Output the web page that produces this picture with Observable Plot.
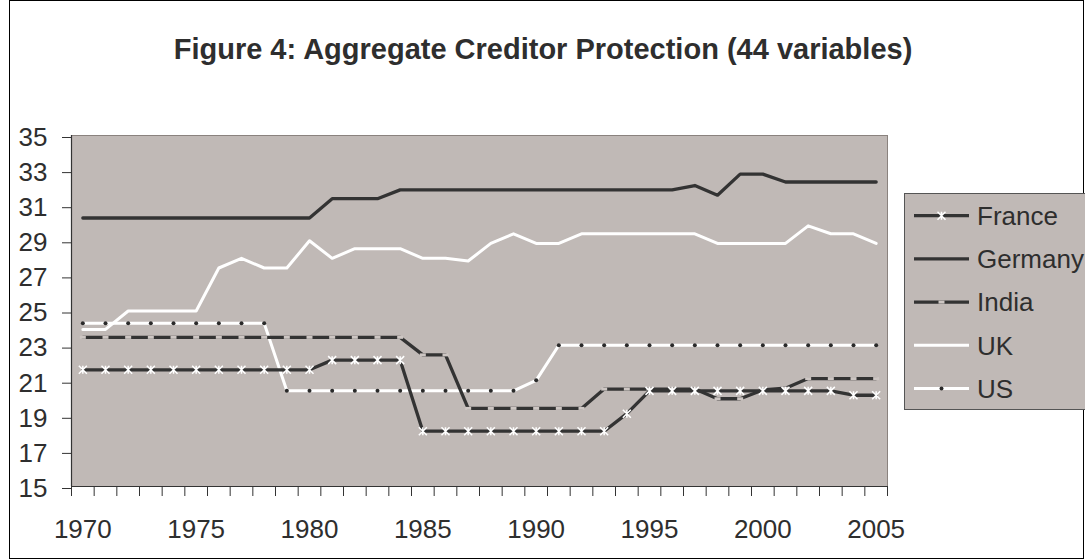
<!DOCTYPE html>
<html>
<head>
<meta charset="utf-8">
<script src="https://cdn.jsdelivr.net/npm/d3@7"></script>
<script src="https://cdn.jsdelivr.net/npm/@observablehq/plot@0.6"></script>
<style>
  body { margin: 0; background: #fff; overflow: hidden; font-family: "Liberation Sans", Arial, sans-serif; }
  #wrap { position: relative; width: 1085px; height: 560px; overflow: hidden; }
  #chart { position: absolute; left: 0; top: 0; }
  #frame { position: absolute; left: 9px; top: 0; width: 1075px; height: 559px; border: 1px solid #000; box-sizing: border-box; pointer-events: none; }
  #title { position: absolute; left: 0; width: 1086px; top: 35px; text-align: center; font-weight: bold; font-size: 29px; line-height: 29px; color: #2e2e2e; white-space: nowrap; }
  #legend { position: absolute; left: 904px; top: 193px; }
</style>
</head>
<body>
<div id="wrap">
  <div id="chart"></div>
  <div id="frame"></div>
  <div id="title">Figure 4: Aggregate Creditor Protection (44 variables)</div>
  <svg id="legend" width="190" height="218"></svg>
</div>
<script>
// ---- data ----
const years = [1970,1971,1972,1973,1974,1975,1976,1977,1978,1979,
               1980,1981,1982,1983,1984,1985,1986,1987,1988,1989,
               1990,1991,1992,1993,1994,1995,1996,1997,1998,1999,
               2000,2001,2002,2003,2004,2005];
const seriesNames = ["France", "Germany", "India", "UK", "US"];
const france = [21.65,21.65,21.65,21.65,21.65,21.65,21.65,21.65,21.65,21.65,
                21.65,22.2,22.2,22.2,22.2,18.15,18.15,18.15,18.15,18.15,
                18.15,18.15,18.15,18.15,19.15,20.45,20.45,20.45,20.45,20.45,
                20.45,20.45,20.45,20.45,20.2,20.2];
const germany = [30.3,30.3,30.3,30.3,30.3,30.3,30.3,30.3,30.3,30.3,
                 30.3,31.4,31.4,31.4,31.9,31.9,31.9,31.9,31.9,31.9,
                 31.9,31.9,31.9,31.9,31.9,31.9,31.9,32.15,31.6,32.8,
                 32.8,32.35,32.35,32.35,32.35,32.35];
const india = [23.5,23.5,23.5,23.5,23.5,23.5,23.5,23.5,23.5,23.5,
               23.5,23.5,23.5,23.5,23.5,22.5,22.5,19.45,19.45,19.45,
               19.45,19.45,19.45,20.55,20.55,20.55,20.55,20.55,20.0,20.0,
               20.5,20.6,21.15,21.15,21.15,21.15];
const uk = [23.95,23.95,25.0,25.0,25.0,25.0,27.45,28.0,27.45,27.45,
            29.0,28.0,28.55,28.55,28.55,28.0,28.0,27.85,28.85,29.4,
            28.85,28.85,29.4,29.4,29.4,29.4,29.4,29.4,28.85,28.85,
            28.85,28.85,29.85,29.4,29.4,28.85];
const us = [24.3,24.3,24.3,24.3,24.3,24.3,24.3,24.3,24.3,20.45,
            20.45,20.45,20.45,20.45,20.45,20.45,20.45,20.45,20.45,20.45,
            21.05,23.05,23.05,23.05,23.05,23.05,23.05,23.05,23.05,23.05,
            23.05,23.05,23.05,23.05,23.05,23.05];
const yTicks = [15,17,19,21,23,25,27,29,31,33,35];
const xLabelYears = [1970,1975,1980,1985,1990,1995,2000,2005];

// ---- table ----
const valuesByName = {France: france, Germany: germany, India: india, UK: uk, US: us};
const rows = seriesNames.flatMap(name => years.map((year, i) => ({name, year, value: valuesByName[name][i]})));
const of = name => rows.filter(d => d.name === name);

// category boundaries (ticks between categories)
const bounds = years.map(y => y - 0.5).concat([years[years.length - 1] + 0.5]);
const xDomain = [bounds[0], bounds[bounds.length - 1]];
const yDomain = [yTicks[0], yTicks[yTicks.length - 1]];

const BG = "#c0b9b6";
const DARK = "#333333";

const asterisk = {
  draw(ctx, size) {
    const r = Math.sqrt(size / Math.PI);
    ctx.moveTo(-r, -r); ctx.lineTo(r, r);
    ctx.moveTo(-r, r); ctx.lineTo(r, -r);
    ctx.moveTo(0, -r); ctx.lineTo(0, r);
  }
};
const dash = {
  draw(ctx, size) {
    const r = Math.sqrt(size / Math.PI);
    ctx.moveTo(-r, 0); ctx.lineTo(r, 0);
  }
};

const chart = Plot.plot({
  width: 1085,
  height: 560,
  marginLeft: 71,
  marginRight: 198,
  marginTop: 135,
  marginBottom: 74,
  style: { fontFamily: "Liberation Sans, Arial, sans-serif", fontSize: "26px", color: "#2e2e2e", background: "transparent", overflow: "visible" },
  x: { type: "linear", domain: xDomain, label: null },
  y: { type: "linear", domain: yDomain, label: null },
  marks: [
    Plot.frame({ fill: BG, stroke: "#8a827e", strokeWidth: 1 }),
    Plot.axisY(yTicks, { label: null, tickSize: 9, tickPadding: 15, fontSize: 26, dy: 2, tickFormat: d => String(d), stroke: DARK }),
    Plot.axisX(bounds, { label: null, tickSize: 10, tickFormat: () => "", stroke: DARK }),
    Plot.axisX(xLabelYears, { label: null, tickSize: 0, tickPadding: 33, fontSize: 26, tickFormat: d => String(d) }),
    Plot.ruleX([xDomain[0]], { stroke: DARK, strokeWidth: 1.2 }),
    Plot.ruleY([yDomain[0]], { stroke: DARK, strokeWidth: 1.2 }),
    // Germany
    Plot.line(of("Germany"), { x: "year", y: "value", stroke: DARK, strokeWidth: 3.3 }),
    // UK
    Plot.line(of("UK"), { x: "year", y: "value", stroke: "#ffffff", strokeWidth: 3 }),
    // US
    Plot.line(of("US"), { x: "year", y: "value", stroke: "#ffffff", strokeWidth: 3 }),
    Plot.dot(of("US"), { x: "year", y: "value", r: 2, fill: "#2a2a2a", stroke: "none" }),
    // India
    Plot.line(of("India"), { x: "year", y: "value", stroke: DARK, strokeWidth: 3.3 }),
    Plot.dot(of("India"), { x: "year", y: "value", symbol: dash, r: 3, stroke: "#cdc6c3", strokeWidth: 3, fill: "none" }),
    // France
    Plot.line(of("France"), { x: "year", y: "value", stroke: DARK, strokeWidth: 3.3 }),
    Plot.dot(of("France"), { x: "year", y: "value", symbol: asterisk, r: 4, stroke: "#ffffff", strokeWidth: 1.5, fill: "none" })
  ]
});
document.getElementById("chart").appendChild(chart);

// ---- legend ----
const leg = d3.select("#legend");
leg.append("rect").attr("x", 0.5).attr("y", 0.5).attr("width", 300).attr("height", 216)
  .attr("fill", BG).attr("stroke", "#555").attr("stroke-width", 1);
const legStyle = {
  France: { stroke: DARK, w: 3.3, marker: "asterisk" },
  Germany: { stroke: DARK, w: 3.3, marker: null },
  India: { stroke: DARK, w: 3.3, marker: "dash" },
  UK: { stroke: "#ffffff", w: 3, marker: null },
  US: { stroke: "#ffffff", w: 3, marker: "dot" }
};
seriesNames.forEach((name, i) => {
  const cy = 22.7 + i * 43.2;
  const g = leg.append("g").attr("transform", `translate(0,${cy})`);
  const s = legStyle[name];
  g.append("line").attr("x1", 10).attr("x2", 65).attr("y1", 0).attr("y2", 0)
    .attr("stroke", s.stroke).attr("stroke-width", s.w);
  const mx = 37.5;
  if (s.marker === "asterisk") {
    const r = 4;
    g.append("path").attr("d", `M${mx-r},${-r}L${mx+r},${r}M${mx-r},${r}L${mx+r},${-r}M${mx},${-r}L${mx},${r}`)
      .attr("stroke", "#fff").attr("stroke-width", 1.5).attr("fill", "none");
  } else if (s.marker === "dash") {
    g.append("line").attr("x1", mx - 3).attr("x2", mx + 3).attr("y1", 0).attr("y2", 0)
      .attr("stroke", "#cdc6c3").attr("stroke-width", 3);
  } else if (s.marker === "dot") {
    g.append("circle").attr("cx", mx).attr("cy", 0).attr("r", 2).attr("fill", "#2a2a2a");
  }
  g.append("text").attr("x", 73).attr("y", 9.3).text(name)
    .attr("font-family", "Liberation Sans, Arial, sans-serif").attr("font-size", 26).attr("fill", "#2e2e2e");
});
</script>
</body>
</html>
